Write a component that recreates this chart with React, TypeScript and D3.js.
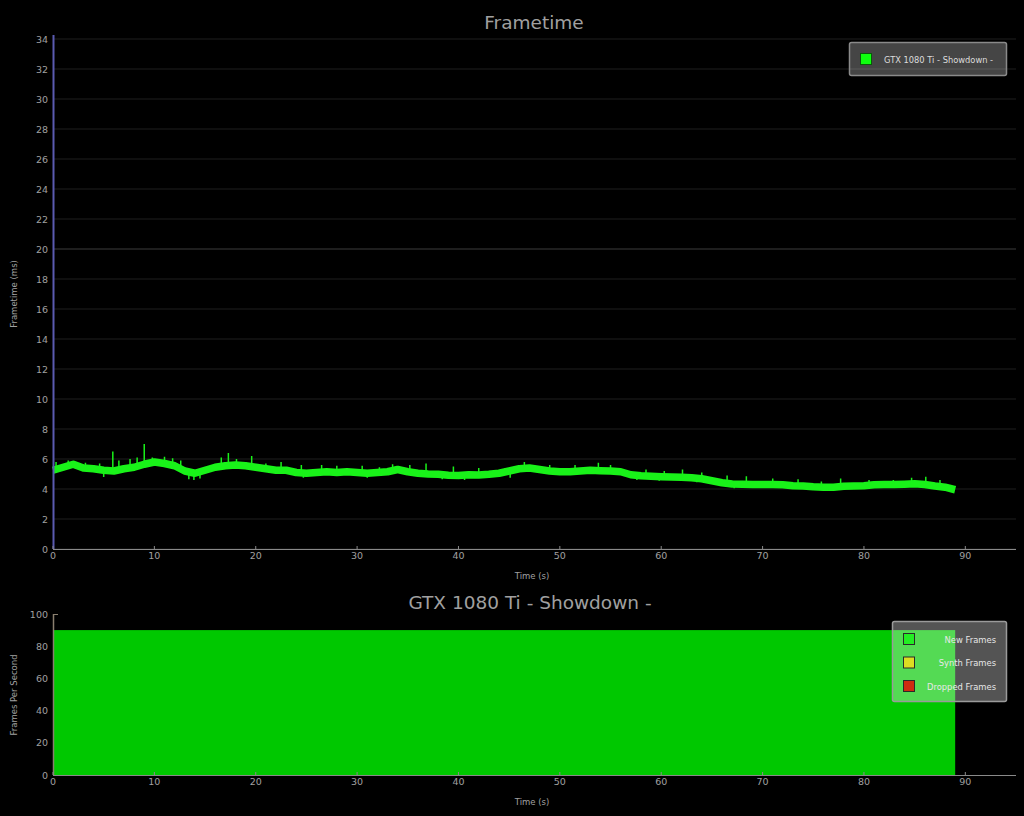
import React from "react";
import * as d3 from "d3";

// Frametime centre values, one per second (t = 0..89), in ms
const frameTimeSeconds: number[] = d3.range(0, 90);
const frameTimeValues: number[] = [
  5.25, 5.45, 5.65, 5.4, 5.35, 5.25, 5.2, 5.35, 5.45, 5.65,
  5.8, 5.7, 5.55, 5.2, 5.05, 5.25, 5.45, 5.55, 5.6, 5.55,
  5.45, 5.35, 5.25, 5.25, 5.1, 5.05, 5.1, 5.15, 5.1, 5.15,
  5.1, 5.05, 5.1, 5.15, 5.3, 5.15, 5.05, 5.0, 4.98, 4.92,
  4.9, 4.95, 4.93, 4.98, 5.05, 5.2, 5.35, 5.4, 5.3, 5.2,
  5.15, 5.15, 5.2, 5.25, 5.22, 5.2, 5.15, 4.95, 4.88, 4.85,
  4.82, 4.8, 4.78, 4.75, 4.68, 4.55, 4.42, 4.33, 4.32, 4.3,
  4.3, 4.3, 4.28, 4.22, 4.2, 4.15, 4.12, 4.12, 4.18, 4.2,
  4.22, 4.28, 4.3, 4.3, 4.32, 4.35, 4.3, 4.2, 4.12, 3.95,
];

// Frametime spikes: time (s) and peak (ms)
const spikeTimes: number[] = [0.3, 1.5, 3.2, 4.6, 5.9, 6.5, 7.6, 8.3, 9.0, 9.8, 11.0, 11.8, 12.6, 16.6, 17.3, 18.1, 19.6, 21.0, 22.5, 24.5, 26.5, 28.0, 30.5, 32.2, 33.5, 35.2, 36.8, 39.5, 42.0, 44.6, 46.5, 49.0, 51.5, 53.8, 55.0, 58.5, 60.3, 62.1, 64.0, 66.5, 68.4, 71.0, 73.5, 75.8, 77.7, 80.5, 82.9, 84.7, 86.1, 87.5];
const spikePeaks: number[] = [5.8, 5.9, 5.75, 5.7, 6.5, 5.9, 6.0, 6.1, 7.0, 6.1, 6.15, 6.05, 5.9, 6.1, 6.4, 6.0, 6.2, 5.7, 5.8, 5.6, 5.6, 5.55, 5.55, 5.45, 5.65, 5.6, 5.7, 5.5, 5.4, 5.4, 5.8, 5.6, 5.6, 5.75, 5.6, 5.3, 5.2, 5.3, 5.1, 4.9, 4.85, 4.7, 4.65, 4.5, 4.7, 4.6, 4.6, 4.75, 4.82, 4.6];

// Frametime dips: time (s) and low (ms)
const dipTimes: number[] = [5.0, 13.4, 13.9, 14.5, 24.7, 31.0, 38.4, 40.6, 45.1, 57.6, 59.8, 63.5, 67.2, 74.6, 76.4, 86.8];
const dipLows: number[] = [4.8, 4.65, 4.6, 4.7, 4.75, 4.75, 4.65, 4.6, 4.75, 4.6, 4.55, 4.45, 4.05, 3.95, 3.9, 4.0];

const topYTicks: number[] = d3.range(0, 36, 2);
const xTicks: number[] = d3.range(0, 100, 10);
const bottomYTicks: number[] = [0, 20, 40, 60, 80, 100];

// FPS chart: new frames
const fpsStart = 0;
const fpsEnd = 89;
const fpsValue = 90;

const legendTop: string[] = ["GTX 1080 Ti - Showdown -"];
const legendBottom: string[] = ["New Frames", "Synth Frames", "Dropped Frames"];
const legendBottomColors: string[] = ["#22ee22", "#dddd22", "#d02a10"];

const FONT = "'DejaVu Sans', Verdana, sans-serif";
const TXT = "#a0a0a0";

export default function App() {
  const W = 1024, H = 816;
  const x1 = d3.scaleLinear().domain([0, 95]).range([53, 1016]);
  const y1 = d3.scaleLinear().domain([0, 34]).range([549, 39]);
  const y2 = d3.scaleLinear().domain([0, 100]).range([775, 614]);

  const pts = frameTimeSeconds.map((t, i) => [t, frameTimeValues[i]] as [number, number]);
  const line = d3.line<[number, number]>().x(d => x1(d[0])).y(d => y1(d[1])).curve(d3.curveLinear);
  const interp = (t: number) => {
    const i = Math.min(Math.floor(t), frameTimeValues.length - 2);
    const f = t - i;
    return frameTimeValues[i] * (1 - f) + frameTimeValues[i + 1] * f;
  };
  const GREEN = "#19f219";

  return (
    <svg width={W} height={H} style={{ position: "absolute", left: 0, top: 0, background: "#000" }}>
      <rect x={0} y={0} width={W} height={H} fill="#000" />
      {/* Top chart */}
      <text x={534} y={29} textAnchor="middle" fill={TXT} fontFamily={FONT} fontSize={18.5}>Frametime</text>
      {topYTicks.map(v => (
        <line key={v} x1={53} x2={1016} y1={y1(v)} y2={y1(v)} stroke={v === 20 ? "#3c3c3c" : "#1e1e1e"} strokeWidth={1} />
      ))}
      {topYTicks.map(v => (
        <text key={"t" + v} x={48} y={y1(v) + 3.5} textAnchor="end" fill={TXT} fontFamily={FONT} fontSize={9.5}>{v}</text>
      ))}
      <text transform={`translate(17,294) rotate(-90)`} textAnchor="middle" fill={TXT} fontFamily={FONT} fontSize={8.5}>Frametime (ms)</text>
      {/* line band */}
      <path d={line(pts) || ""} fill="none" stroke={GREEN} strokeWidth={7.5} strokeLinejoin="round" strokeLinecap="butt" />
      {spikeTimes.map((t, i) => (
        <line key={"s" + i} x1={x1(t)} x2={x1(t)} y1={y1(interp(t))} y2={y1(spikePeaks[i])} stroke={GREEN} strokeWidth={1.5} />
      ))}
      {dipTimes.map((t, i) => (
        <line key={"d" + i} x1={x1(t)} x2={x1(t)} y1={y1(interp(t))} y2={y1(dipLows[i])} stroke={GREEN} strokeWidth={1.5} />
      ))}
      {/* axes */}
      <line x1={53} x2={1016} y1={549.5} y2={549.5} stroke="#8a8a8a" strokeWidth={1} />
      <line x1={53.5} x2={53.5} y1={35} y2={549} stroke="#5a5ab0" strokeWidth={2} />
      {xTicks.map(v => (
        <g key={"x" + v}>
          <line x1={x1(v)} x2={x1(v)} y1={546} y2={549} stroke="#8a8a8a" />
          <text x={x1(v)} y={559} textAnchor="middle" fill={TXT} fontFamily={FONT} fontSize={9.5}>{v}</text>
        </g>
      ))}
      <text x={532} y={579} textAnchor="middle" fill={TXT} fontFamily={FONT} fontSize={8.5}>Time (s)</text>
      {/* top legend */}
      <rect x={849.5} y={42.5} width={157} height={33} rx={2} fill="rgba(255,255,255,0.27)" stroke="#8a8a8a" strokeWidth={1.5} />
      <rect x={860.5} y={53.5} width={11} height={11} fill="#0eff0e" stroke="#0a5a0a" strokeWidth={1} />
      <text x={884} y={63} fill="#dcdcdc" fontFamily={FONT} fontSize={8.3}>{legendTop[0]}</text>

      {/* Bottom chart */}
      <text x={530} y={609} textAnchor="middle" fill={TXT} fontFamily={FONT} fontSize={18.5}>GTX 1080 Ti - Showdown -</text>
      <rect x={x1(fpsStart)} y={y2(fpsValue)} width={x1(fpsEnd) - x1(fpsStart)} height={y2(0) - y2(fpsValue)} fill="#00c800" />
      <line x1={53} x2={1016} y1={775.5} y2={775.5} stroke="#8a8a8a" strokeWidth={1} />
      <line x1={53.5} x2={53.5} y1={614} y2={775} stroke="#8a7f6f" strokeWidth={1.5} />
      <line x1={53} x2={58} y1={614.5} y2={614.5} stroke="#8a7f6f" strokeWidth={1} />
      {bottomYTicks.map(v => (
        <text key={"b" + v} x={48} y={y2(v) + 3.5} textAnchor="end" fill={TXT} fontFamily={FONT} fontSize={9.5}>{v}</text>
      ))}
      <text transform={`translate(17,695) rotate(-90)`} textAnchor="middle" fill={TXT} fontFamily={FONT} fontSize={8.5}>Frames Per Second</text>
      {xTicks.map(v => (
        <g key={"bx" + v}>
          <line x1={x1(v)} x2={x1(v)} y1={772} y2={775} stroke="#8a8a8a" />
          <text x={x1(v)} y={785} textAnchor="middle" fill={TXT} fontFamily={FONT} fontSize={9.5}>{v}</text>
        </g>
      ))}
      <text x={532} y={805} textAnchor="middle" fill={TXT} fontFamily={FONT} fontSize={8.5}>Time (s)</text>
      {/* bottom legend */}
      <rect x={892.5} y={621.5} width={114} height={80} rx={2} fill="rgba(255,255,255,0.33)" stroke="#9a9a9a" strokeWidth={1.5} />
      {legendBottom.map((name, i) => (
        <g key={name}>
          <rect x={903.5} y={633.5 + i * 23.5} width={11} height={11} fill={legendBottomColors[i]} stroke="#2a2a2a" strokeWidth={1} />
          <text x={996} y={642.5 + i * 23.5} textAnchor="end" fill="#e8e8e8" fontFamily={FONT} fontSize={8.4}>{name}</text>
        </g>
      ))}
    </svg>
  );
}
